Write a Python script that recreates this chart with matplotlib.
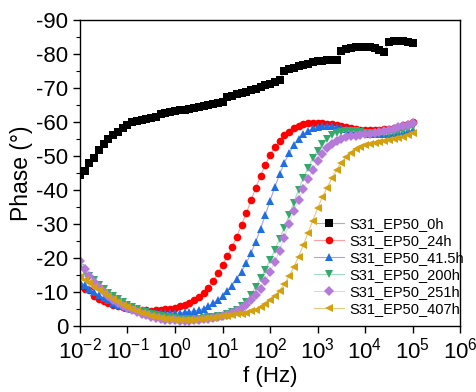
import numpy as np
import matplotlib
matplotlib.use("Agg")
import matplotlib.pyplot as plt

plt.rcParams['font.family'] = ['Liberation Sans', 'DejaVu Sans']
plt.rcParams['mathtext.fontset'] = 'custom'
plt.rcParams['mathtext.rm'] = 'Liberation Sans'
plt.rcParams['mathtext.it'] = 'Liberation Sans:italic'
plt.rcParams['axes.unicode_minus'] = False

# measurement frequencies: 10 points per decade, 1e-2 .. 1e5 Hz
freq = np.logspace(-2, 5, 71)

phase_0h = [-44.4, -45.7, -48.0, -49.3, -51.8, -53.5, -55.0, -56.2, -57.1, -58.1,
            -59.1, -59.9, -60.3, -60.7, -61.0, -61.3, -61.6, -62.4, -62.7, -63.0,
            -63.2, -63.4, -63.6, -63.8, -64.0, -64.3, -64.6, -64.9, -65.2, -65.5,
            -65.8, -67.3, -67.7, -68.1, -68.5, -68.9, -69.3, -69.8, -70.3, -70.8,
            -71.3, -71.8, -72.3, -75.0, -75.5, -76.0, -76.4, -76.8, -77.2, -77.5,
            -77.8, -78.0, -78.2, -78.2, -78.1, -80.9, -81.4, -81.8, -82.0, -82.2,
            -82.2, -82.0, -81.7, -81.2, -80.6, -83.6, -83.8, -83.8, -83.7, -83.5,
            -83.3]
phase_24h = [-11.8, -10.8, -10.5, -8.8, -8.0, -7.3, -6.8, -6.3, -5.9, -5.6,
             -5.3, -5.0, -4.8, -4.7, -4.6, -4.5, -4.6, -4.7, -4.9, -5.1,
             -5.4, -5.8, -6.2, -6.8, -7.5, -8.4, -9.6, -11.2, -13.2, -15.5,
             -17.9, -20.5, -23.2, -26.3, -29.7, -33.1, -37.0, -40.6, -44.2, -47.4,
             -50.2, -52.6, -54.5, -56.1, -57.2, -58.1, -58.8, -59.3, -59.6, -59.8,
             -59.8, -59.7, -59.5, -59.3, -59.0, -58.7, -58.4, -58.1, -57.9, -57.7,
             -57.6, -57.5, -57.5, -57.6, -57.8, -58.0, -58.3, -58.6, -59.0, -59.5,
             -60.0]
phase_41h = [-13.0, -12.0, -11.0, -10.0, -9.0, -8.2, -7.5, -6.9, -6.3, -5.8,
             -5.3, -4.9, -4.6, -4.4, -4.2, -4.0, -3.9, -3.8, -3.8, -3.8,
             -3.8, -3.9, -4.0, -4.2, -4.4, -4.7, -5.1, -5.8, -6.7, -7.7,
             -8.9, -10.3, -11.9, -13.8, -16.0, -18.5, -21.4, -24.8, -28.6, -32.6,
             -36.8, -40.8, -44.6, -47.9, -50.8, -53.2, -55.0, -56.4, -57.4, -58.1,
             -58.5, -58.7, -58.8, -58.7, -58.5, -58.2, -57.9, -57.6, -57.3, -57.0,
             -56.8, -56.6, -56.5, -56.5, -56.5, -56.6, -56.7, -56.9, -57.1, -57.3,
             -57.6]
phase_200h = [-17.0, -16.0, -14.8, -13.4, -12.1, -10.9, -9.8, -8.8, -7.9, -7.0,
              -6.3, -5.6, -5.0, -4.5, -4.0, -3.6, -3.2, -2.9, -2.7, -2.5,
              -2.3, -2.2, -2.1, -2.1, -2.1, -2.2, -2.3, -2.5, -2.7, -2.9,
              -3.0, -3.4, -4.0, -4.8, -5.8, -7.2, -9.2, -11.6, -14.0, -16.6,
              -19.4, -22.4, -25.6, -28.9, -32.5, -36.3, -40.0, -43.5, -46.6, -49.3,
              -51.6, -53.5, -55.0, -56.1, -56.8, -57.2, -57.4, -57.4, -57.3, -57.1,
              -56.9, -56.7, -56.5, -56.4, -56.4, -56.5, -56.7, -57.0, -57.4, -57.9,
              -58.5]
phase_251h = [-19.0, -16.8, -14.8, -13.0, -11.4, -10.0, -8.8, -7.7, -6.8, -6.0,
              -5.3, -4.6, -4.0, -3.5, -3.1, -2.7, -2.4, -2.1, -1.9, -1.8,
              -1.7, -1.6, -1.6, -1.6, -1.7, -1.8, -2.0, -2.2, -2.4, -2.6,
              -2.8, -3.2, -3.8, -4.5, -5.3, -6.3, -7.6, -9.2, -11.0, -13.3,
              -15.9, -18.8, -22.2, -26.0, -30.0, -33.8, -37.2, -40.2, -43.1, -45.9,
              -48.4, -50.7, -52.4, -53.6, -54.5, -55.1, -55.5, -55.8, -56.0, -56.2,
              -56.4, -56.6, -56.8, -57.0, -57.3, -57.6, -58.0, -58.4, -58.8, -59.2,
              -59.6]
phase_407h = [-14.5, -13.6, -12.6, -11.6, -10.6, -9.6, -8.7, -7.8, -7.0, -6.2,
              -5.5, -4.9, -4.3, -3.8, -3.4, -3.0, -2.7, -2.4, -2.2, -2.0,
              -1.9, -1.8, -1.8, -1.8, -1.9, -2.0, -2.1, -2.3, -2.4, -2.6,
              -2.8, -3.0, -3.2, -3.4, -3.6, -3.9, -4.3, -4.8, -5.5, -6.4,
              -7.5, -8.8, -10.4, -12.3, -14.6, -17.3, -20.4, -23.8, -27.4, -31.0,
              -34.6, -37.8, -40.7, -43.4, -45.9, -48.0, -49.7, -51.0, -52.0, -52.7,
              -53.2, -53.6, -53.9, -54.1, -54.4, -54.7, -55.0, -55.3, -55.7, -56.2,
              -56.7]

labels = ['S31_EP50_0h', 'S31_EP50_24h', 'S31_EP50_41.5h',
          'S31_EP50_200h', 'S31_EP50_251h', 'S31_EP50_407h']
series = [phase_0h, phase_24h, phase_41h, phase_200h, phase_251h, phase_407h]
colors = ['black', '#ff0000', '#1f6fe0', '#35a96c', '#b57ad9', '#d4a010']
line_colors = ['#b0b0b0', '#ffa0a0', '#a0a0ff', '#a0dcc0', '#e2d2f2', '#e6c880']
markers = ['s', 'o', '^', 'v', 'D', '<']
msizes = [5.5, 5.5, 6, 6, 5, 6]

fig = plt.figure(figsize=(4.77, 3.92), dpi=100)
ax = fig.add_axes([0.1677, 0.1684, 0.7967, 0.7806])

for y, lab, c, lc, m, ms in zip(series, labels, colors, line_colors, markers, msizes):
    ax.plot(freq, y, color=lc, lw=0.8, marker=m, markersize=ms,
            markerfacecolor=c, markeredgecolor=c, markeredgewidth=0, label=lab)

ax.set_xscale('log')
ax.set_xlim(1e-2, 1e6)
ax.set_ylim(0, -90)
ax.set_yticks(np.arange(0, -91, -10))
ax.set_yticks(np.arange(-5, -90, -10), minor=True)
ax.set_xticks([10.0**k for k in range(-2, 7)])
ax.tick_params(which='major', direction='out', length=5, width=1, labelsize=16)
ax.tick_params(which='minor', direction='out', length=3, width=0.8)
for s in ax.spines.values():
    s.set_linewidth(1)

ax.set_xlabel('f (Hz)', fontsize=16, labelpad=2)
ax.set_ylabel('Phase (°)', fontsize=16.5, labelpad=2)

ax.legend(loc='upper left', bbox_to_anchor=(0.615, 0.355), frameon=False,
          fontsize=10.5, handlelength=2.1, handletextpad=0.35, labelspacing=0.2,
          borderpad=0, borderaxespad=0)

fig.savefig('out.png', dpi=100)
